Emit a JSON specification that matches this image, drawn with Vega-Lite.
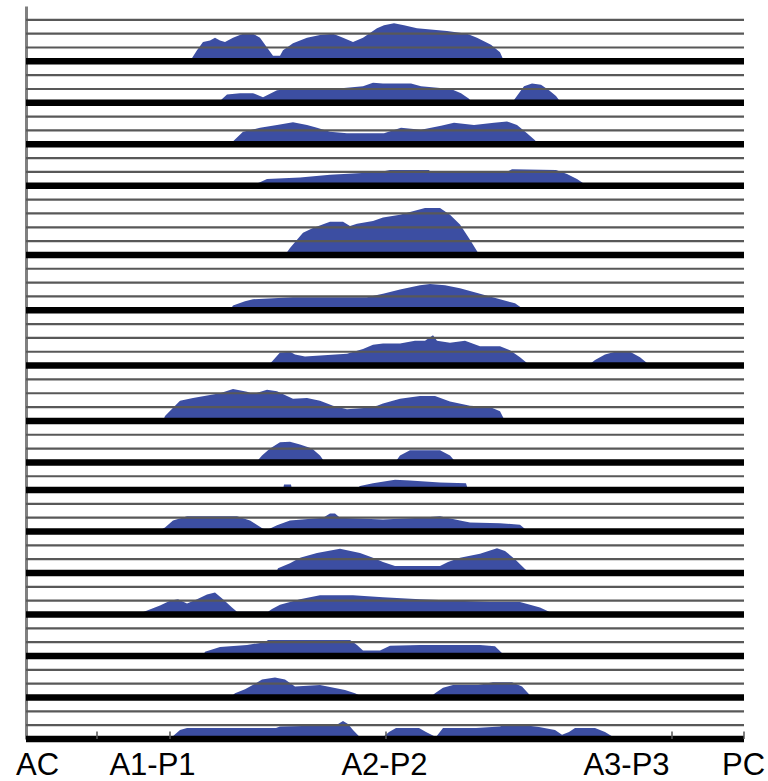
{
"$schema":"https://vega.github.io/schema/vega-lite/v6.json",
"autosize":{"type":"none"},
"width":718,"height":733,
"padding":{"left":26,"top":6,"right":24,"bottom":42},
"background":"white",
"config":{"view":{"stroke":null}},
"datasets":{
"lines":[{"v":52,"k":"thin"},{"v":51,"k":"thin"},{"v":50,"k":"thin"},{"v":49,"k":"thick"},{"v":48,"k":"thin"},{"v":47,"k":"thin"},{"v":46,"k":"thick"},{"v":45,"k":"thin"},{"v":44,"k":"thin"},{"v":43,"k":"thick"},{"v":42,"k":"thin"},{"v":41,"k":"thin"},{"v":40,"k":"thick"},{"v":39,"k":"thin"},{"v":38,"k":"thin"},{"v":37,"k":"thin"},{"v":36,"k":"thin"},{"v":35,"k":"thick"},{"v":34,"k":"thin"},{"v":33,"k":"thin"},{"v":32,"k":"thin"},{"v":31,"k":"thick"},{"v":30,"k":"thin"},{"v":29,"k":"thin"},{"v":28,"k":"thin"},{"v":27,"k":"thick"},{"v":26,"k":"thin"},{"v":25,"k":"thin"},{"v":24,"k":"thin"},{"v":23,"k":"thick"},{"v":22,"k":"thin"},{"v":21,"k":"thin"},{"v":20,"k":"thick"},{"v":19,"k":"thin"},{"v":18,"k":"thick"},{"v":17,"k":"thin"},{"v":16,"k":"thin"},{"v":15,"k":"thick"},{"v":14,"k":"thin"},{"v":13,"k":"thin"},{"v":12,"k":"thick"},{"v":11,"k":"thin"},{"v":10,"k":"thin"},{"v":9,"k":"thick"},{"v":8,"k":"thin"},{"v":7,"k":"thin"},{"v":6,"k":"thick"},{"v":5,"k":"thin"},{"v":4,"k":"thin"},{"v":3,"k":"thick"},{"v":2,"k":"thin"},{"v":1,"k":"thin"},{"v":0,"k":"thick"}],
"ticks":[{"x":71},{"x":144},{"x":360},{"x":646},{"x":718}],
"prof":[
{"p":1,"x":164,"b":49,"t":49},{"p":1,"x":171,"b":49,"t":49.8},{"p":1,"x":177,"b":49,"t":50.4},{"p":1,"x":184,"b":49,"t":50.5},{"p":1,"x":189,"b":49,"t":50.7},{"p":1,"x":194,"b":49,"t":50.5},{"p":1,"x":199,"b":49,"t":50.4},{"p":1,"x":207,"b":49,"t":50.7},{"p":1,"x":217,"b":49,"t":51},{"p":1,"x":227,"b":49,"t":51},{"p":1,"x":234,"b":49,"t":50.7},{"p":1,"x":241,"b":49,"t":50},{"p":1,"x":247,"b":49,"t":49.4},{"p":1,"x":254,"b":49,"t":49.4},{"p":1,"x":257,"b":49,"t":49.8},{"p":1,"x":267,"b":49,"t":50.3},{"p":1,"x":281,"b":49,"t":50.7},{"p":1,"x":294,"b":49,"t":50.9},{"p":1,"x":307,"b":49,"t":51},{"p":1,"x":317,"b":49,"t":50.7},{"p":1,"x":327,"b":49,"t":50.4},{"p":1,"x":337,"b":49,"t":50.7},{"p":1,"x":351,"b":49,"t":51.4},{"p":1,"x":358,"b":49,"t":51.6},{"p":1,"x":368,"b":49,"t":51.75},{"p":1,"x":378,"b":49,"t":51.6},{"p":1,"x":391,"b":49,"t":51.4},{"p":1,"x":421,"b":49,"t":51.2},{"p":1,"x":441,"b":49,"t":51},{"p":1,"x":451,"b":49,"t":50.7},{"p":1,"x":465,"b":49,"t":50.2},{"p":1,"x":474,"b":49,"t":49.65},{"p":1,"x":478,"b":49,"t":49},
{"p":2,"x":192,"b":46,"t":46},{"p":2,"x":201,"b":46,"t":46.6},{"p":2,"x":214,"b":46,"t":46.7},{"p":2,"x":227,"b":46,"t":46.7},{"p":2,"x":237,"b":46,"t":46.4},{"p":2,"x":251,"b":46,"t":46.9},{"p":2,"x":264,"b":46,"t":47},{"p":2,"x":307,"b":46,"t":47},{"p":2,"x":337,"b":46,"t":47.2},{"p":2,"x":347,"b":46,"t":47.45},{"p":2,"x":357,"b":46,"t":47.4},{"p":2,"x":385,"b":46,"t":47.4},{"p":2,"x":395,"b":46,"t":47.2},{"p":2,"x":425,"b":46,"t":47},{"p":2,"x":435,"b":46,"t":46.7},{"p":2,"x":443,"b":46,"t":46.3},{"p":2,"x":446,"b":46,"t":46},{"p":2,"x":486,"b":46,"t":46},{"p":2,"x":492,"b":46,"t":46.6},{"p":2,"x":498,"b":46,"t":47.2},{"p":2,"x":506,"b":46,"t":47.4},{"p":2,"x":515,"b":46,"t":47.3},{"p":2,"x":523,"b":46,"t":46.9},{"p":2,"x":530,"b":46,"t":46.5},{"p":2,"x":535,"b":46,"t":46},
{"p":3,"x":204,"b":43,"t":43},{"p":3,"x":217,"b":43,"t":43.9},{"p":3,"x":234,"b":43,"t":44.2},{"p":3,"x":251,"b":43,"t":44.4},{"p":3,"x":267,"b":43,"t":44.6},{"p":3,"x":281,"b":43,"t":44.4},{"p":3,"x":291,"b":43,"t":44.2},{"p":3,"x":304,"b":43,"t":43.9},{"p":3,"x":321,"b":43,"t":43.8},{"p":3,"x":358,"b":43,"t":43.8},{"p":3,"x":375,"b":43,"t":44.2},{"p":3,"x":395,"b":43,"t":44.05},{"p":3,"x":415,"b":43,"t":44.35},{"p":3,"x":428,"b":43,"t":44.55},{"p":3,"x":448,"b":43,"t":44.4},{"p":3,"x":468,"b":43,"t":44.55},{"p":3,"x":481,"b":43,"t":44.65},{"p":3,"x":491,"b":43,"t":44.4},{"p":3,"x":501,"b":43,"t":43.8},{"p":3,"x":509,"b":43,"t":43.3},{"p":3,"x":512,"b":43,"t":43},
{"p":4,"x":224,"b":40,"t":40},{"p":4,"x":234,"b":40,"t":40.25},{"p":4,"x":241,"b":40,"t":40.5},{"p":4,"x":274,"b":40,"t":40.6},{"p":4,"x":304,"b":40,"t":40.8},{"p":4,"x":354,"b":40,"t":41},{"p":4,"x":364,"b":40,"t":41.15},{"p":4,"x":403,"b":40,"t":41.15},{"p":4,"x":405,"b":40,"t":40.95},{"p":4,"x":479,"b":40,"t":40.95},{"p":4,"x":486,"b":40,"t":41.2},{"p":4,"x":530,"b":40,"t":41.15},{"p":4,"x":541,"b":40,"t":40.85},{"p":4,"x":551,"b":40,"t":40.5},{"p":4,"x":561,"b":40,"t":40},
{"p":5,"x":259,"b":35,"t":35},{"p":5,"x":264,"b":35,"t":35.5},{"p":5,"x":271,"b":35,"t":36.1},{"p":5,"x":277,"b":35,"t":36.6},{"p":5,"x":287,"b":35,"t":36.95},{"p":5,"x":304,"b":35,"t":37.4},{"p":5,"x":317,"b":35,"t":37.4},{"p":5,"x":324,"b":35,"t":37.1},{"p":5,"x":331,"b":35,"t":37.25},{"p":5,"x":347,"b":35,"t":37.45},{"p":5,"x":357,"b":35,"t":37.7},{"p":5,"x":374,"b":35,"t":37.9},{"p":5,"x":384,"b":35,"t":38.1},{"p":5,"x":399,"b":35,"t":38.4},{"p":5,"x":414,"b":35,"t":38.4},{"p":5,"x":424,"b":35,"t":37.9},{"p":5,"x":434,"b":35,"t":37.2},{"p":5,"x":444,"b":35,"t":36.1},{"p":5,"x":452,"b":35,"t":35.15},{"p":5,"x":454,"b":35,"t":35},
{"p":6,"x":204,"b":31,"t":31},{"p":6,"x":207,"b":31,"t":31.35},{"p":6,"x":219,"b":31,"t":31.65},{"p":6,"x":227,"b":31,"t":31.8},{"p":6,"x":267,"b":31,"t":31.95},{"p":6,"x":341,"b":31,"t":31.95},{"p":6,"x":351,"b":31,"t":32.1},{"p":6,"x":357,"b":31,"t":32.2},{"p":6,"x":374,"b":31,"t":32.5},{"p":6,"x":394,"b":31,"t":32.8},{"p":6,"x":404,"b":31,"t":32.9},{"p":6,"x":419,"b":31,"t":32.8},{"p":6,"x":434,"b":31,"t":32.6},{"p":6,"x":454,"b":31,"t":32.2},{"p":6,"x":474,"b":31,"t":31.8},{"p":6,"x":489,"b":31,"t":31.5},{"p":6,"x":499,"b":31,"t":31},
{"p":7,"x":242,"b":27,"t":27},{"p":7,"x":246,"b":27,"t":27.3},{"p":7,"x":254,"b":27,"t":27.95},{"p":7,"x":264,"b":27,"t":28},{"p":7,"x":269,"b":27,"t":27.8},{"p":7,"x":279,"b":27,"t":27.65},{"p":7,"x":321,"b":27,"t":27.85},{"p":7,"x":337,"b":27,"t":28.2},{"p":7,"x":347,"b":27,"t":28.5},{"p":7,"x":357,"b":27,"t":28.6},{"p":7,"x":374,"b":27,"t":28.6},{"p":7,"x":389,"b":27,"t":28.8},{"p":7,"x":399,"b":27,"t":28.8},{"p":7,"x":407,"b":27,"t":29.2},{"p":7,"x":411,"b":27,"t":28.8},{"p":7,"x":424,"b":27,"t":28.65},{"p":7,"x":439,"b":27,"t":28.8},{"p":7,"x":454,"b":27,"t":28.4},{"p":7,"x":474,"b":27,"t":28.4},{"p":7,"x":484,"b":27,"t":28.1},{"p":7,"x":494,"b":27,"t":27.6},{"p":7,"x":504,"b":27,"t":27},{"p":7,"x":562,"b":27,"t":27},{"p":7,"x":569,"b":27,"t":27.4},{"p":7,"x":579,"b":27,"t":27.8},{"p":7,"x":589,"b":27,"t":28},{"p":7,"x":604,"b":27,"t":28},{"p":7,"x":614,"b":27,"t":27.6},{"p":7,"x":624,"b":27,"t":27},
{"p":8,"x":137,"b":23,"t":23},{"p":8,"x":139,"b":23,"t":23.35},{"p":8,"x":154,"b":23,"t":24.45},{"p":8,"x":167,"b":23,"t":24.65},{"p":8,"x":194,"b":23,"t":25},{"p":8,"x":207,"b":23,"t":25.3},{"p":8,"x":221,"b":23,"t":25.1},{"p":8,"x":227,"b":23,"t":24.95},{"p":8,"x":241,"b":23,"t":25.25},{"p":8,"x":251,"b":23,"t":25.15},{"p":8,"x":261,"b":23,"t":24.8},{"p":8,"x":267,"b":23,"t":24.6},{"p":8,"x":281,"b":23,"t":24.65},{"p":8,"x":294,"b":23,"t":24.45},{"p":8,"x":307,"b":23,"t":24.1},{"p":8,"x":321,"b":23,"t":23.85},{"p":8,"x":341,"b":23,"t":23.95},{"p":8,"x":351,"b":23,"t":24.1},{"p":8,"x":357,"b":23,"t":24.25},{"p":8,"x":374,"b":23,"t":24.6},{"p":8,"x":394,"b":23,"t":24.8},{"p":8,"x":409,"b":23,"t":24.8},{"p":8,"x":424,"b":23,"t":24.4},{"p":8,"x":444,"b":23,"t":24.1},{"p":8,"x":464,"b":23,"t":24},{"p":8,"x":474,"b":23,"t":23.7},{"p":8,"x":479,"b":23,"t":23},
{"p":9,"x":230,"b":20,"t":20},{"p":9,"x":236,"b":20,"t":20.5},{"p":9,"x":244,"b":20,"t":21},{"p":9,"x":254,"b":20,"t":21.45},{"p":9,"x":264,"b":20,"t":21.5},{"p":9,"x":274,"b":20,"t":21.3},{"p":9,"x":286,"b":20,"t":21},{"p":9,"x":294,"b":20,"t":20.5},{"p":9,"x":299,"b":20,"t":20},{"p":9,"x":369,"b":20,"t":20},{"p":9,"x":374,"b":20,"t":20.5},{"p":9,"x":384,"b":20,"t":20.87},{"p":9,"x":414,"b":20,"t":20.87},{"p":9,"x":424,"b":20,"t":20.5},{"p":9,"x":430,"b":20,"t":20},
{"p":10,"x":257,"b":18,"t":18},{"p":10,"x":258,"b":18,"t":18.4},{"p":10,"x":265,"b":18,"t":18.4},{"p":10,"x":266,"b":18,"t":18},{"p":10,"x":329,"b":18,"t":18},{"p":10,"x":334,"b":18,"t":18.3},{"p":10,"x":347,"b":18,"t":18.5},{"p":10,"x":369,"b":18,"t":18.75},{"p":10,"x":384,"b":18,"t":18.7},{"p":10,"x":414,"b":18,"t":18.55},{"p":10,"x":440,"b":18,"t":18.5},{"p":10,"x":442,"b":18,"t":18},
{"p":11,"x":132,"b":15,"t":15},{"p":11,"x":139,"b":15,"t":15.3},{"p":11,"x":147,"b":15,"t":15.8},{"p":11,"x":161,"b":15,"t":16.1},{"p":11,"x":211,"b":15,"t":16.1},{"p":11,"x":224,"b":15,"t":15.8},{"p":11,"x":237,"b":15,"t":15.2},{"p":11,"x":242,"b":15,"t":15.15},{"p":11,"x":251,"b":15,"t":15.45},{"p":11,"x":264,"b":15,"t":15.8},{"p":11,"x":297,"b":15,"t":16},{"p":11,"x":304,"b":15,"t":16.3},{"p":11,"x":309,"b":15,"t":16.3},{"p":11,"x":314,"b":15,"t":16},{"p":11,"x":357,"b":15,"t":15.87},{"p":11,"x":394,"b":15,"t":16},{"p":11,"x":414,"b":15,"t":16.1},{"p":11,"x":434,"b":15,"t":15.8},{"p":11,"x":444,"b":15,"t":15.65},{"p":11,"x":474,"b":15,"t":15.6},{"p":11,"x":494,"b":15,"t":15.5},{"p":11,"x":502,"b":15,"t":15},
{"p":12,"x":250,"b":12,"t":12},{"p":12,"x":252,"b":12,"t":12.35},{"p":12,"x":264,"b":12,"t":12.7},{"p":12,"x":274,"b":12,"t":13.1},{"p":12,"x":291,"b":12,"t":13.45},{"p":12,"x":314,"b":12,"t":13.75},{"p":12,"x":334,"b":12,"t":13.45},{"p":12,"x":347,"b":12,"t":13.1},{"p":12,"x":357,"b":12,"t":12.8},{"p":12,"x":369,"b":12,"t":12.5},{"p":12,"x":414,"b":12,"t":12.5},{"p":12,"x":422,"b":12,"t":12.8},{"p":12,"x":434,"b":12,"t":13.1},{"p":12,"x":454,"b":12,"t":13.4},{"p":12,"x":471,"b":12,"t":13.8},{"p":12,"x":479,"b":12,"t":13.6},{"p":12,"x":489,"b":12,"t":13},{"p":12,"x":499,"b":12,"t":12.3},{"p":12,"x":504,"b":12,"t":12},
{"p":13,"x":114,"b":9,"t":9},{"p":13,"x":116,"b":9,"t":9.15},{"p":13,"x":134,"b":9,"t":9.65},{"p":13,"x":144,"b":9,"t":10},{"p":13,"x":152,"b":9,"t":10.1},{"p":13,"x":161,"b":9,"t":9.8},{"p":13,"x":171,"b":9,"t":10.1},{"p":13,"x":181,"b":9,"t":10.45},{"p":13,"x":189,"b":9,"t":10.6},{"p":13,"x":197,"b":9,"t":10.1},{"p":13,"x":206,"b":9,"t":9.5},{"p":13,"x":211,"b":9,"t":9.2},{"p":13,"x":242,"b":9,"t":9.2},{"p":13,"x":246,"b":9,"t":9.4},{"p":13,"x":254,"b":9,"t":9.7},{"p":13,"x":274,"b":9,"t":10.1},{"p":13,"x":294,"b":9,"t":10.4},{"p":13,"x":327,"b":9,"t":10.4},{"p":13,"x":357,"b":9,"t":10.25},{"p":13,"x":394,"b":9,"t":10.1},{"p":13,"x":464,"b":9,"t":9.9},{"p":13,"x":494,"b":9,"t":9.9},{"p":13,"x":514,"b":9,"t":9.5},{"p":13,"x":529,"b":9,"t":9},
{"p":14,"x":177,"b":6,"t":6},{"p":14,"x":179,"b":6,"t":6.3},{"p":14,"x":194,"b":6,"t":6.65},{"p":14,"x":221,"b":6,"t":6.8},{"p":14,"x":239,"b":6,"t":7},{"p":14,"x":242,"b":6,"t":7.15},{"p":14,"x":324,"b":6,"t":7.15},{"p":14,"x":331,"b":6,"t":6.8},{"p":14,"x":337,"b":6,"t":6.4},{"p":14,"x":354,"b":6,"t":6.4},{"p":14,"x":364,"b":6,"t":6.75},{"p":14,"x":394,"b":6,"t":6.8},{"p":14,"x":454,"b":6,"t":6.8},{"p":14,"x":469,"b":6,"t":6.7},{"p":14,"x":479,"b":6,"t":6},
{"p":15,"x":204,"b":3,"t":3},{"p":15,"x":209,"b":3,"t":3.3},{"p":15,"x":219,"b":3,"t":3.6},{"p":15,"x":229,"b":3,"t":4},{"p":15,"x":236,"b":3,"t":4.3},{"p":15,"x":249,"b":3,"t":4.45},{"p":15,"x":259,"b":3,"t":4.3},{"p":15,"x":269,"b":3,"t":3.8},{"p":15,"x":294,"b":3,"t":3.9},{"p":15,"x":319,"b":3,"t":3.55},{"p":15,"x":329,"b":3,"t":3.3},{"p":15,"x":338,"b":3,"t":3},{"p":15,"x":404,"b":3,"t":3},{"p":15,"x":409,"b":3,"t":3.3},{"p":15,"x":417,"b":3,"t":3.7},{"p":15,"x":427,"b":3,"t":3.9},{"p":15,"x":452,"b":3,"t":3.9},{"p":15,"x":467,"b":3,"t":4.1},{"p":15,"x":486,"b":3,"t":4.1},{"p":15,"x":496,"b":3,"t":3.8},{"p":15,"x":506,"b":3,"t":3},
{"p":16,"x":144,"b":0,"t":0},{"p":16,"x":146,"b":0,"t":0.15},{"p":16,"x":154,"b":0,"t":0.65},{"p":16,"x":161,"b":0,"t":0.8},{"p":16,"x":250,"b":0,"t":0.8},{"p":16,"x":254,"b":0,"t":0.9},{"p":16,"x":310,"b":0,"t":1},{"p":16,"x":317,"b":0,"t":1.3},{"p":16,"x":322,"b":0,"t":1.08},{"p":16,"x":327,"b":0,"t":0.65},{"p":16,"x":333,"b":0,"t":0.2},{"p":16,"x":358,"b":0,"t":0.2},{"p":16,"x":363,"b":0,"t":0.5},{"p":16,"x":370,"b":0,"t":0.8},{"p":16,"x":393,"b":0,"t":0.8},{"p":16,"x":400,"b":0,"t":0.5},{"p":16,"x":410,"b":0,"t":0.15},{"p":16,"x":417,"b":0,"t":0.8},{"p":16,"x":450,"b":0,"t":0.8},{"p":16,"x":474,"b":0,"t":0.9},{"p":16,"x":479,"b":0,"t":1.08},{"p":16,"x":494,"b":0,"t":1.08},{"p":16,"x":499,"b":0,"t":1},{"p":16,"x":513,"b":0,"t":0.87},{"p":16,"x":529,"b":0,"t":0.65},{"p":16,"x":536,"b":0,"t":0.3},{"p":16,"x":543,"b":0,"t":0.5},{"p":16,"x":549,"b":0,"t":0.8},{"p":16,"x":569,"b":0,"t":0.8},{"p":16,"x":579,"b":0,"t":0.5},{"p":16,"x":586,"b":0,"t":0.2},{"p":16,"x":589,"b":0,"t":0}
]},
"layer":[
{"data":{"name":"prof"},
 "mark":{"type":"area","color":"#3c4ea2","opacity":1,"interpolate":"linear"},
 "encoding":{
  "x":{"field":"x","type":"quantitative","scale":{"domain":[0,718],"nice":false,"zero":false},
   "axis":{"values":[11,126,358,600,717],"labelExpr":"datum.value==11?'AC':datum.value==126?'A1-P1':datum.value==358?'A2-P2':datum.value==600?'A3-P3':'PC'",
    "domain":false,"ticks":false,"tickSize":0,"grid":false,"title":null,"labelFont":"Liberation Sans","labelFontSize":31,"labelColor":"#000000","labelBaseline":"alphabetic","labelPadding":35,"labelFlush":false,"labelOverlap":false,"labelBound":false}},
  "y":{"field":"t","type":"quantitative","scale":{"domain":[0,53],"nice":false,"zero":false},
   "axis":{"domain":true,"domainColor":"#808080","domainWidth":3,"labels":false,"ticks":false,"grid":false,"title":null}},
  "y2":{"field":"b"},
  "detail":{"field":"p","type":"nominal"}
 }},
{"data":{"name":"lines"},
 "mark":{"type":"rule"},
 "encoding":{
  "y":{"field":"v","type":"quantitative"},
  "color":{"field":"k","type":"nominal","scale":{"domain":["thin","thick"],"range":["#585858","#000000"]},"legend":null},
  "strokeWidth":{"field":"k","type":"nominal","scale":{"domain":["thin","thick"],"range":[2.2,6.5]},"legend":null}
 }},
{"data":{"name":"ticks"},
 "mark":{"type":"rule","color":"#555555","strokeWidth":1.5},
 "encoding":{"x":{"field":"x","type":"quantitative"},"y":{"datum":0},"y2":{"datum":0.55}}}
]
}
